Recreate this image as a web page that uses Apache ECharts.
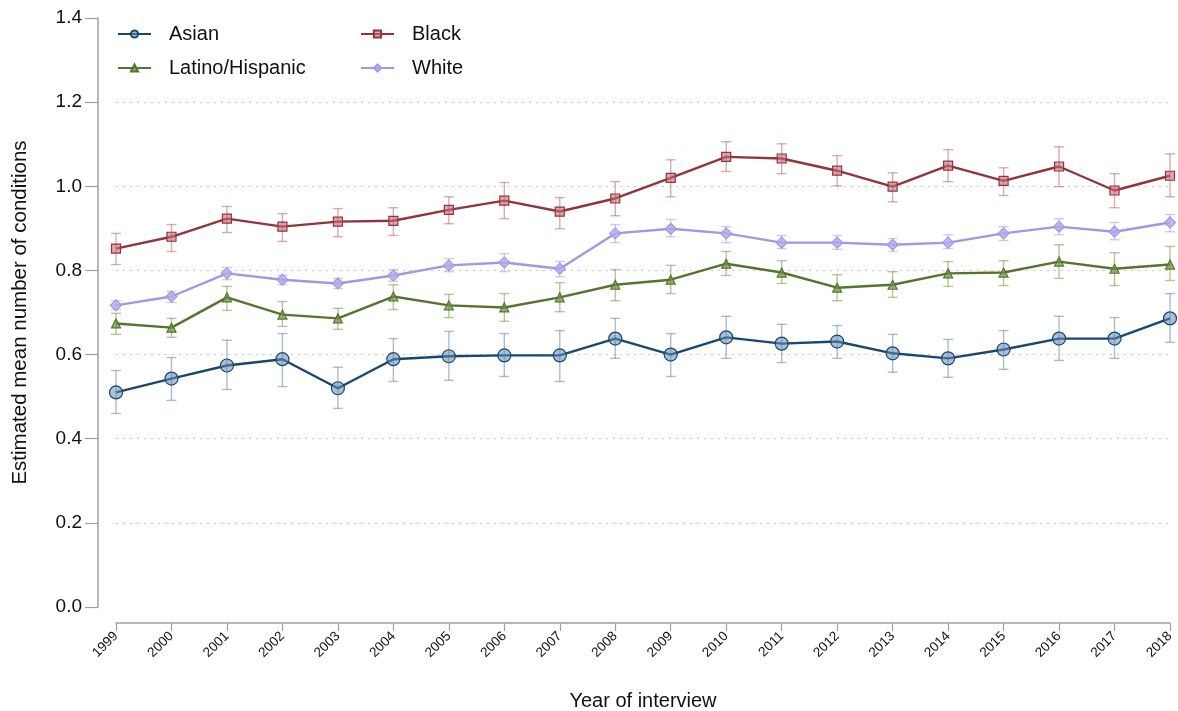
<!DOCTYPE html>
<html>
<head>
<meta charset="utf-8">
<script src="https://cdn.jsdelivr.net/npm/echarts@6/dist/echarts.min.js"></script>
<style>html,body{margin:0;padding:0;background:#fff;}#c{width:1178px;height:711px;}</style>
</head>
<body>
<div id="c"></div>
<script>
var years = ['1999','2000','2001','2002','2003','2004','2005','2006','2007','2008','2009','2010','2011','2012','2013','2014','2015','2016','2017','2018'];
var yTicks = ['0.0','0.2','0.4','0.6','0.8','1.0','1.2','1.4'];

var asianMean = [0.510,0.543,0.574,0.589,0.520,0.589,0.596,0.598,0.598,0.638,0.600,0.641,0.626,0.631,0.603,0.591,0.612,0.638,0.638,0.686];
var asianLo   = [0.460,0.491,0.517,0.524,0.472,0.536,0.539,0.548,0.536,0.591,0.548,0.591,0.581,0.591,0.558,0.546,0.565,0.586,0.591,0.629];
var asianHi   = [0.562,0.593,0.634,0.650,0.570,0.638,0.655,0.650,0.657,0.686,0.650,0.691,0.672,0.669,0.648,0.636,0.657,0.691,0.688,0.745];

var blackMean = [0.852,0.880,0.923,0.904,0.916,0.918,0.944,0.966,0.940,0.971,1.020,1.070,1.066,1.037,0.999,1.049,1.013,1.047,0.990,1.025];
var blackLo   = [0.814,0.845,0.890,0.869,0.880,0.883,0.911,0.923,0.899,0.930,0.975,1.035,1.030,1.001,0.963,1.011,0.978,0.999,0.949,0.975];
var blackHi   = [0.888,0.909,0.952,0.935,0.947,0.949,0.975,1.009,0.973,1.011,1.063,1.106,1.101,1.073,1.032,1.087,1.044,1.094,1.030,1.077];

var latinoMean = [0.674,0.664,0.736,0.695,0.686,0.738,0.717,0.712,0.736,0.766,0.778,0.816,0.795,0.759,0.766,0.793,0.795,0.821,0.804,0.814];
var latinoLo   = [0.648,0.641,0.705,0.667,0.660,0.707,0.688,0.679,0.702,0.728,0.745,0.788,0.769,0.728,0.736,0.762,0.764,0.781,0.764,0.776];
var latinoHi   = [0.698,0.686,0.762,0.726,0.710,0.766,0.743,0.745,0.771,0.802,0.812,0.845,0.823,0.790,0.797,0.821,0.823,0.861,0.842,0.857];

var whiteMean = [0.717,0.738,0.793,0.778,0.769,0.788,0.812,0.819,0.804,0.888,0.899,0.888,0.866,0.866,0.861,0.866,0.888,0.904,0.892,0.914];
var whiteLo   = [0.707,0.724,0.778,0.766,0.757,0.774,0.797,0.797,0.785,0.866,0.880,0.866,0.852,0.850,0.845,0.852,0.871,0.885,0.873,0.892];
var whiteHi   = [0.728,0.750,0.807,0.788,0.781,0.802,0.828,0.840,0.821,0.909,0.921,0.904,0.883,0.883,0.876,0.885,0.904,0.923,0.914,0.933];

var FONT = '"Liberation Sans", Arial, Helvetica, sans-serif';

function errData(lo, hi){
  return lo.map(function(v,i){ return [i, v, hi[i]]; });
}
function errSeries(name, lo, hi, color){
  return {
    type:'custom', name: name + ' CI', z: 1, silent: true,
    data: errData(lo, hi),
    renderItem: function(params, api){
      var x = api.value(0);
      var a = api.coord([x, api.value(1)]);
      var b = api.coord([x, api.value(2)]);
      var w = 5;
      var st = {stroke: color, lineWidth: 1.4, fill: null};
      return {type:'group', children:[
        {type:'line', shape:{x1:a[0], y1:a[1], x2:b[0], y2:b[1]}, style: st},
        {type:'line', shape:{x1:a[0]-w, y1:a[1], x2:a[0]+w, y2:a[1]}, style: st},
        {type:'line', shape:{x1:b[0]-w, y1:b[1], x2:b[0]+w, y2:b[1]}, style: st}
      ]};
    }
  };
}
function lineSeries(name, data, color, symbol, size, fill){
  return {
    type:'line', name: name, data: data, z: 3,
    symbol: symbol, symbolSize: size, showSymbol: true,
    lineStyle: {color: color, width: 2.4},
    itemStyle: {color: fill, borderColor: color, borderWidth: 1.2},
    emphasis: {disabled: true}
  };
}

var cAsian = '#1a476f', cBlack = '#90353b', cLatino = '#55752f', cWhite = '#a497e2';

var legendCommon = {orient:'vertical', top: 19, itemWidth: 33, itemHeight: 9, itemGap: 14,
  textStyle:{fontSize:20, color:'#111', fontFamily: FONT, padding:[0,0,0,13]}};

var chart = echarts.init(document.getElementById('c'), null, {renderer:'canvas'});
chart.setOption({
  animation: false,
  backgroundColor: '#ffffff',
  textStyle: {fontFamily: FONT},
  grid: {left: 116, right: 8, top: 18, bottom: 104, containLabel: false, outerBoundsMode: 'none'},
  legend: [
    Object.assign({left: 112, data:['Asian','Latino/Hispanic']}, legendCommon),
    Object.assign({left: 355, data:['Black','White']}, legendCommon)
  ],
  xAxis: {
    type:'category', data: years, boundaryGap: false, offset: 16,
    name: 'Year of interview', nameLocation:'middle', nameGap: 68,
    nameTextStyle: {fontSize: 20, color:'#111', fontFamily: FONT},
    axisLine: {show:true, onZero:false, lineStyle:{color:'#a0a0a0', width:1.5}},
    axisTick: {show:true, length: 8, alignWithLabel: true, lineStyle:{color:'#a0a0a0', width:1.2}},
    axisLabel: {rotate: 45, fontSize: 13.5, color:'#111', margin: 11, interval: 0, fontFamily: FONT},
    splitLine: {show:false}
  },
  yAxis: {
    type:'value', min: 0, max: 1.4, interval: 0.2, offset: 18,
    name: 'Estimated mean number of conditions', nameLocation:'middle', nameGap: 67,
    nameTextStyle: {fontSize: 20.5, color:'#111', fontFamily: FONT},
    axisLine: {show:true, onZero:false, lineStyle:{color:'#a0a0a0', width:1.5}},
    axisTick: {show:true, length: 13, lineStyle:{color:'#a0a0a0', width:1.2}},
    axisLabel: {fontSize: 19, color:'#111', margin: 16, fontFamily: FONT,
      formatter: function(v){ return yTicks[Math.round(v/0.2)]; }},
    splitLine: {show:true, lineStyle:{type:[2,5], width:1.2,
      color:['rgba(0,0,0,0)','#c8c8c8','#c8c8c8','#c8c8c8','#c8c8c8','#c8c8c8','#c8c8c8','rgba(0,0,0,0)']}}
  },
  series: [
    errSeries('Asian', asianLo, asianHi, 'rgba(70,110,145,0.45)'),
    errSeries('Black', blackLo, blackHi, 'rgba(170,70,80,0.45)'),
    errSeries('Latino/Hispanic', latinoLo, latinoHi, 'rgba(110,140,60,0.5)'),
    errSeries('White', whiteLo, whiteHi, 'rgba(164,151,226,0.5)'),
    lineSeries('Asian', asianMean, cAsian, 'circle', 13, 'rgba(100,140,180,0.55)'),
    lineSeries('Black', blackMean, cBlack, 'rect', 9, 'rgba(200,110,120,0.6)'),
    lineSeries('Latino/Hispanic', latinoMean, cLatino, 'triangle', 9, 'rgba(110,145,70,0.7)'),
    lineSeries('White', whiteMean, cWhite, 'diamond', 11, 'rgba(180,170,235,0.8)')
  ]
});
</script>
</body>
</html>
